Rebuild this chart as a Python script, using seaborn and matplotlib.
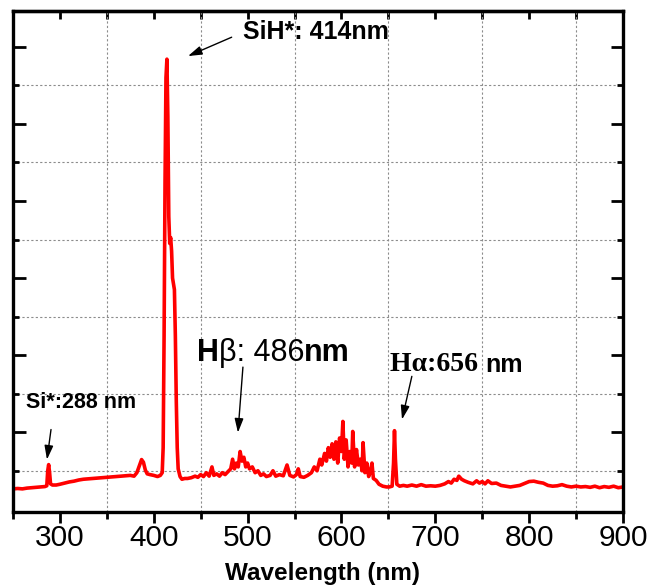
"""
Plasma emission spectrum (SiH* / Si* / H-alpha / H-beta lines).
"""

import matplotlib
matplotlib.use("Agg")
import numpy as np
import pandas as pd
import matplotlib.pyplot as plt
from matplotlib.ticker import MultipleLocator
import seaborn as sns

# ─────────────────────────────────────────────
# Spectrum values (arb. units)
# ─────────────────────────────────────────────
wl_uv = [250, 255, 260, 265, 270, 275, 280, 284, 286, 287, 288, 289, 290, 292,
         296, 300, 305, 310, 315, 320, 325, 330, 335, 340, 345, 350, 355, 360,
         365, 370, 375, 379, 382, 385, 387, 389, 391, 393, 396, 400, 404, 407]
int_uv = [0.53, 0.54, 0.53, 0.55, 0.56, 0.57, 0.58, 0.59, 0.61, 1.0, 1.16, 0.95,
          0.66, 0.63, 0.63, 0.65, 0.68, 0.71, 0.73, 0.76, 0.78, 0.79, 0.80,
          0.81, 0.82, 0.83, 0.84, 0.85, 0.86, 0.87, 0.88, 0.86, 0.95, 1.15,
          1.29, 1.22, 1.02, 0.92, 0.90, 0.88, 0.85, 0.88]

wl_sih = [409, 410, 411, 412, 413, 414, 415, 416, 417, 418, 419, 420, 421, 422,
          423, 424, 425, 426, 428, 430, 433]
int_sih = [0.95, 1.6, 4.5, 8.5, 11.2, 11.68, 10.2, 7.6, 6.9, 7.05, 6.7, 6.0,
           5.85, 5.7, 4.5, 2.8, 1.6, 1.05, 0.85, 0.78, 0.80]

wl_mid = [436, 440, 444, 447, 450, 453, 456, 459, 462, 464, 467, 470, 473, 476,
          480, 482, 484, 486, 488, 490, 492, 494, 496, 498, 500, 502, 505, 508,
          511, 514, 517, 520, 524, 527, 530, 534, 538, 542, 545, 549, 552, 554,
          556, 560, 564, 568]
int_mid = [0.80, 0.82, 0.86, 0.83, 0.90, 0.85, 0.95, 0.86, 1.10, 0.88, 0.92,
           0.86, 0.95, 0.90, 1.00, 1.05, 1.30, 1.05, 1.20, 1.10, 1.50, 1.25,
           1.35, 1.10, 1.20, 1.05, 1.10, 0.95, 1.00, 0.88, 0.92, 0.85, 0.88,
           1.00, 0.86, 0.90, 0.87, 1.15, 0.88, 0.84, 0.90, 1.05, 0.85, 0.83,
           0.88, 0.95]

wl_band = [571, 574, 577, 579, 582, 584, 586, 588, 590, 592, 594, 596, 598, 600,
           601.5, 603, 605, 607, 609, 611, 612, 614, 616, 618, 620, 622, 623,
           625, 627, 629, 631, 632.5, 634, 637, 640, 644, 648]
int_band = [1.10, 1.00, 1.30, 1.15, 1.45, 1.25, 1.60, 1.35, 1.70, 1.30, 1.75,
            1.20, 1.85, 1.50, 2.28, 1.30, 1.80, 1.10, 1.50, 1.20, 2.02, 1.10,
            1.55, 1.15, 1.30, 1.00, 1.73, 0.95, 1.20, 0.85, 1.00, 1.20, 0.80,
            0.75, 0.65, 0.60, 0.58]

wl_red = [651, 654, 655.5, 656.5, 657.5, 659, 662, 666, 670, 675, 680, 685, 690,
          695, 700, 705, 710, 714, 717, 720, 723, 725, 728, 731, 735, 740, 744,
          747, 750, 753, 756, 760, 765, 770, 775, 780, 785, 790, 795, 800, 805,
          810, 815, 820, 825, 830, 835, 840, 845, 850, 855, 860, 865, 870, 875,
          880, 885, 890, 895, 900]
int_red = [0.58, 0.60, 1.20, 2.04, 1.30, 0.65, 0.60, 0.62, 0.60, 0.63, 0.60,
           0.64, 0.60, 0.61, 0.60, 0.62, 0.66, 0.72, 0.68, 0.78, 0.75, 0.86,
           0.78, 0.74, 0.70, 0.66, 0.74, 0.68, 0.72, 0.66, 0.74, 0.67, 0.68,
           0.62, 0.60, 0.58, 0.60, 0.62, 0.67, 0.72, 0.73, 0.70, 0.68, 0.62,
           0.60, 0.61, 0.64, 0.60, 0.58, 0.60, 0.58, 0.59, 0.57, 0.60, 0.56,
           0.59, 0.57, 0.60, 0.56, 0.58]

x_ticks = [300, 400, 500, 600, 700, 800, 900]

spectrum = pd.DataFrame({
    "wavelength": wl_uv + wl_sih + wl_mid + wl_band + wl_red,
    "intensity": int_uv + int_sih + int_mid + int_band + int_red,
})

# ─────────────────────────────────────────────
# Style
# ─────────────────────────────────────────────
sns.set_theme(style="ticks")
plt.rcParams["font.family"] = ["Liberation Sans", "DejaVu Sans"]
plt.rcParams.update({
    "text.color": "black",
    "axes.labelcolor": "black",
    "xtick.color": "black",
    "ytick.color": "black",
})

SANS = ["Liberation Sans", "DejaVu Sans"]
SERIF = ["Liberation Serif", "DejaVu Serif"]


def label_run(ax, x, y, pieces):
    """Write several text pieces side by side, each with its own font."""
    first_text, first_kw = pieces[0]
    prev = ax.text(x, y, first_text, va="baseline", ha="left", **first_kw)
    for text, kw in pieces[1:]:
        prev = ax.annotate(text, xy=(1, 0), xycoords=prev,
                           va="bottom", ha="left", **kw)
    return prev


def arrow(ax, head, tail):
    ax.annotate("", xy=head, xytext=tail,
                arrowprops=dict(arrowstyle="-|>,head_length=0.7,head_width=0.22",
                                color="black", lw=1.0, shrinkA=0, shrinkB=0))


fig, ax = plt.subplots(figsize=(6.5, 5.88), dpi=100)
fig.subplots_adjust(left=13 / 650, right=623 / 650,
                    bottom=1 - 512 / 588, top=1 - 11 / 588)

sns.lineplot(data=spectrum, x="wavelength", y="intensity", ax=ax,
             color="#ff0000", linewidth=2.6, estimator=None)

ax.set_xlim(250, 900)
ax.set_ylim(-0.07, 12.93)

# ticks: labelled majors on x, unlabelled on y, grid on the minor ticks
ax.set_xticks(x_ticks)
ax.xaxis.set_minor_locator(MultipleLocator(50))
ax.set_yticks(np.arange(2, 13, 2))
ax.set_yticks(np.arange(1, 12, 2), minor=True)
ax.tick_params(axis="x", which="both", direction="out", top=False,
               width=2.0, labelsize=21.5, pad=1)
ax.tick_params(axis="x", which="major", length=8)
ax.tick_params(axis="x", which="minor", length=5)
ax.tick_params(axis="y", which="both", direction="in", left=True, right=True,
               labelleft=False, width=2.0)
ax.tick_params(axis="y", which="major", length=9)
ax.tick_params(axis="y", which="minor", length=4)

top = ax.secondary_xaxis("top")
top.set_xticks(x_ticks)
top.xaxis.set_minor_locator(MultipleLocator(50))
top.tick_params(which="both", direction="in", length=6, width=2.0,
                labeltop=False, color="black")
top.spines["top"].set_linewidth(2.4)

for side in ["left", "right", "top", "bottom"]:
    ax.spines[side].set_visible(True)
    ax.spines[side].set_linewidth(2.4)
    ax.spines[side].set_color("black")

ax.grid(False, which="major")
ax.grid(True, which="minor", linestyle=(0, (2, 2)), color="#8c8c8c", lw=0.8)

ax.set_xlabel("Wavelength (nm)", fontsize=17.5, fontweight="bold")
ax.xaxis.set_label_coords(0.507, -0.1)
ax.set_ylabel("")

# ─────────────────────────────────────────────
# Line labels
# ─────────────────────────────────────────────
label_run(ax, 495, 12.2,
          [("SiH*: 414nm", dict(family=SANS, fontsize=18, fontweight="bold"))])
arrow(ax, (436.5, 11.76), (483, 12.25))

label_run(ax, 264, 2.64,
          [("Si*:288 nm", dict(family=SANS, fontsize=15.5, fontweight="bold"))])
arrow(ax, (286.2, 1.29), (290.5, 2.07))

label_run(ax, 446, 3.85,
          [("H", dict(family=SANS, fontsize=22, fontweight="bold")),
           ("\u03b2: 486", dict(family=SANS, fontsize=22)),
           ("nm", dict(family=SANS, fontsize=22, fontweight="bold"))])
arrow(ax, (489.7, 1.99), (495, 3.69))

label_run(ax, 651.7, 3.58,
          [("H\u03b1:656 ", dict(family=SERIF, fontsize=20, fontweight="bold")),
           ("nm", dict(family=SANS, fontsize=18, fontweight="bold"))])
arrow(ax, (664.5, 2.33), (675, 3.45))

fig.savefig("out.png", dpi=100)
